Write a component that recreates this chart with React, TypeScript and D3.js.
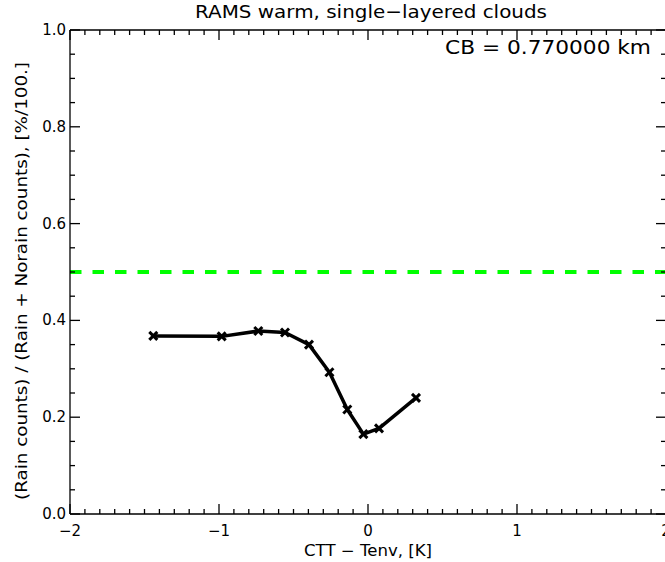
import React from "react";
import * as d3 from "d3";

const xValues = [-1.441, -0.982, -0.736, -0.557, -0.396, -0.259, -0.139, -0.031, 0.074, 0.322];
const yValues = [0.368, 0.367, 0.378, 0.375, 0.35, 0.293, 0.216, 0.165, 0.177, 0.24];
const xTicks = [-2, -1, 0, 1, 2];
const yTicks = [0.0, 0.2, 0.4, 0.6, 0.8, 1.0];
const refLine = 0.5;
const title = "RAMS warm, single\u2212layered clouds";
const annotation = "CB = 0.770000 km";
const xLabel = "CTT \u2212 Tenv, [K]";
const yLabel = "(Rain counts) / (Rain + Norain counts), [%/100.]";

const W = 665;
const H = 562;
const L = 70, R = 666, T = 30, B = 514;
const FONT = "'DejaVu Sans', sans-serif";

export default function App() {
  const x = d3.scaleLinear().domain([-2, 2]).range([L, R]);
  const y = d3.scaleLinear().domain([0, 1]).range([B, T]);
  const xMinor = d3.range(-20, 21).map((i) => i / 10);
  const yMinor = d3.range(0, 21).map((i) => i / 20);
  const pts = xValues.map((v, i) => [v, yValues[i]] as [number, number]);
  const line = d3.line<[number, number]>().x((d) => x(d[0])).y((d) => y(d[1]));
  const axisColor = "#000";
  const ms = 4;
  return (
    <svg
      width={W}
      height={H}
      style={{ position: "fixed", left: 0, top: 0, background: "#fff" }}
      fontFamily={FONT}
    >
      <rect x={0} y={0} width={W} height={H} fill="#fff" />
      {/* green dashed reference */}
      <line
        x1={L}
        x2={R}
        y1={y(refLine)}
        y2={y(refLine)}
        stroke="#00ff00"
        strokeWidth={4}
        strokeDasharray="11.5,11"
      />
      {/* axes frame */}
      <g stroke={axisColor} strokeWidth={1.3} fill="none">
        <line x1={L} x2={R} y1={B} y2={B} />
        <line x1={L} x2={R} y1={T} y2={T} />
        <line x1={L} x2={L} y1={T} y2={B} />
        <line x1={R} x2={R} y1={T} y2={B} />
        {xMinor.map((v, i) => {
          const major = Math.abs(v - Math.round(v)) < 1e-9;
          const len = major ? 10 : 5;
          return (
            <g key={"xm" + i}>
              <line x1={x(v)} x2={x(v)} y1={B} y2={B - len} />
              <line x1={x(v)} x2={x(v)} y1={T} y2={T + len} />
            </g>
          );
        })}
        {yMinor.map((v, i) => {
          const major = i % 4 === 0;
          const len = major ? 10 : 5;
          return (
            <g key={"ym" + i}>
              <line x1={L} x2={L + len} y1={y(v)} y2={y(v)} />
              <line x1={R} x2={R - len} y1={y(v)} y2={y(v)} />
            </g>
          );
        })}
      </g>
      {/* tick labels */}
      <g fontSize={15} fill="#000">
        {xTicks.map((v) => (
          <text key={"xt" + v} x={x(v)} y={B + 22} textAnchor="middle">
            {v < 0 ? "\u2212" + Math.abs(v) : String(v)}
          </text>
        ))}
        {yTicks.map((v) => (
          <text key={"yt" + v} x={L - 4} y={y(v) + 5} textAnchor="end">
            {v.toFixed(1)}
          </text>
        ))}
      </g>
      {/* data line */}
      <path d={line(pts) || ""} fill="none" stroke="#000" strokeWidth={3.5} strokeLinejoin="round" />
      {pts.map((d, i) => (
        <g key={"p" + i} stroke="#000" strokeWidth={3}>
          <line x1={x(d[0]) - ms} x2={x(d[0]) + ms} y1={y(d[1]) - ms} y2={y(d[1]) + ms} />
          <line x1={x(d[0]) - ms} x2={x(d[0]) + ms} y1={y(d[1]) + ms} y2={y(d[1]) - ms} />
        </g>
      ))}
      {/* texts */}
      <text
        x={195}
        y={18}
        fontSize={18}
        fill="#000"
        textLength={352}
        lengthAdjust="spacingAndGlyphs"
      >
        {title}
      </text>
      <text
        x={445}
        y={54}
        fontSize={19}
        fill="#000"
        textLength={206}
        lengthAdjust="spacingAndGlyphs"
      >
        {annotation}
      </text>
      <text
        x={304}
        y={556}
        fontSize={15}
        fill="#000"
        textLength={128}
        lengthAdjust="spacingAndGlyphs"
      >
        {xLabel}
      </text>
      <text
        transform={`translate(27, 500) rotate(-90)`}
        fontSize={16}
        fill="#000"
        textLength={438}
        lengthAdjust="spacingAndGlyphs"
      >
        {yLabel}
      </text>
    </svg>
  );
}
